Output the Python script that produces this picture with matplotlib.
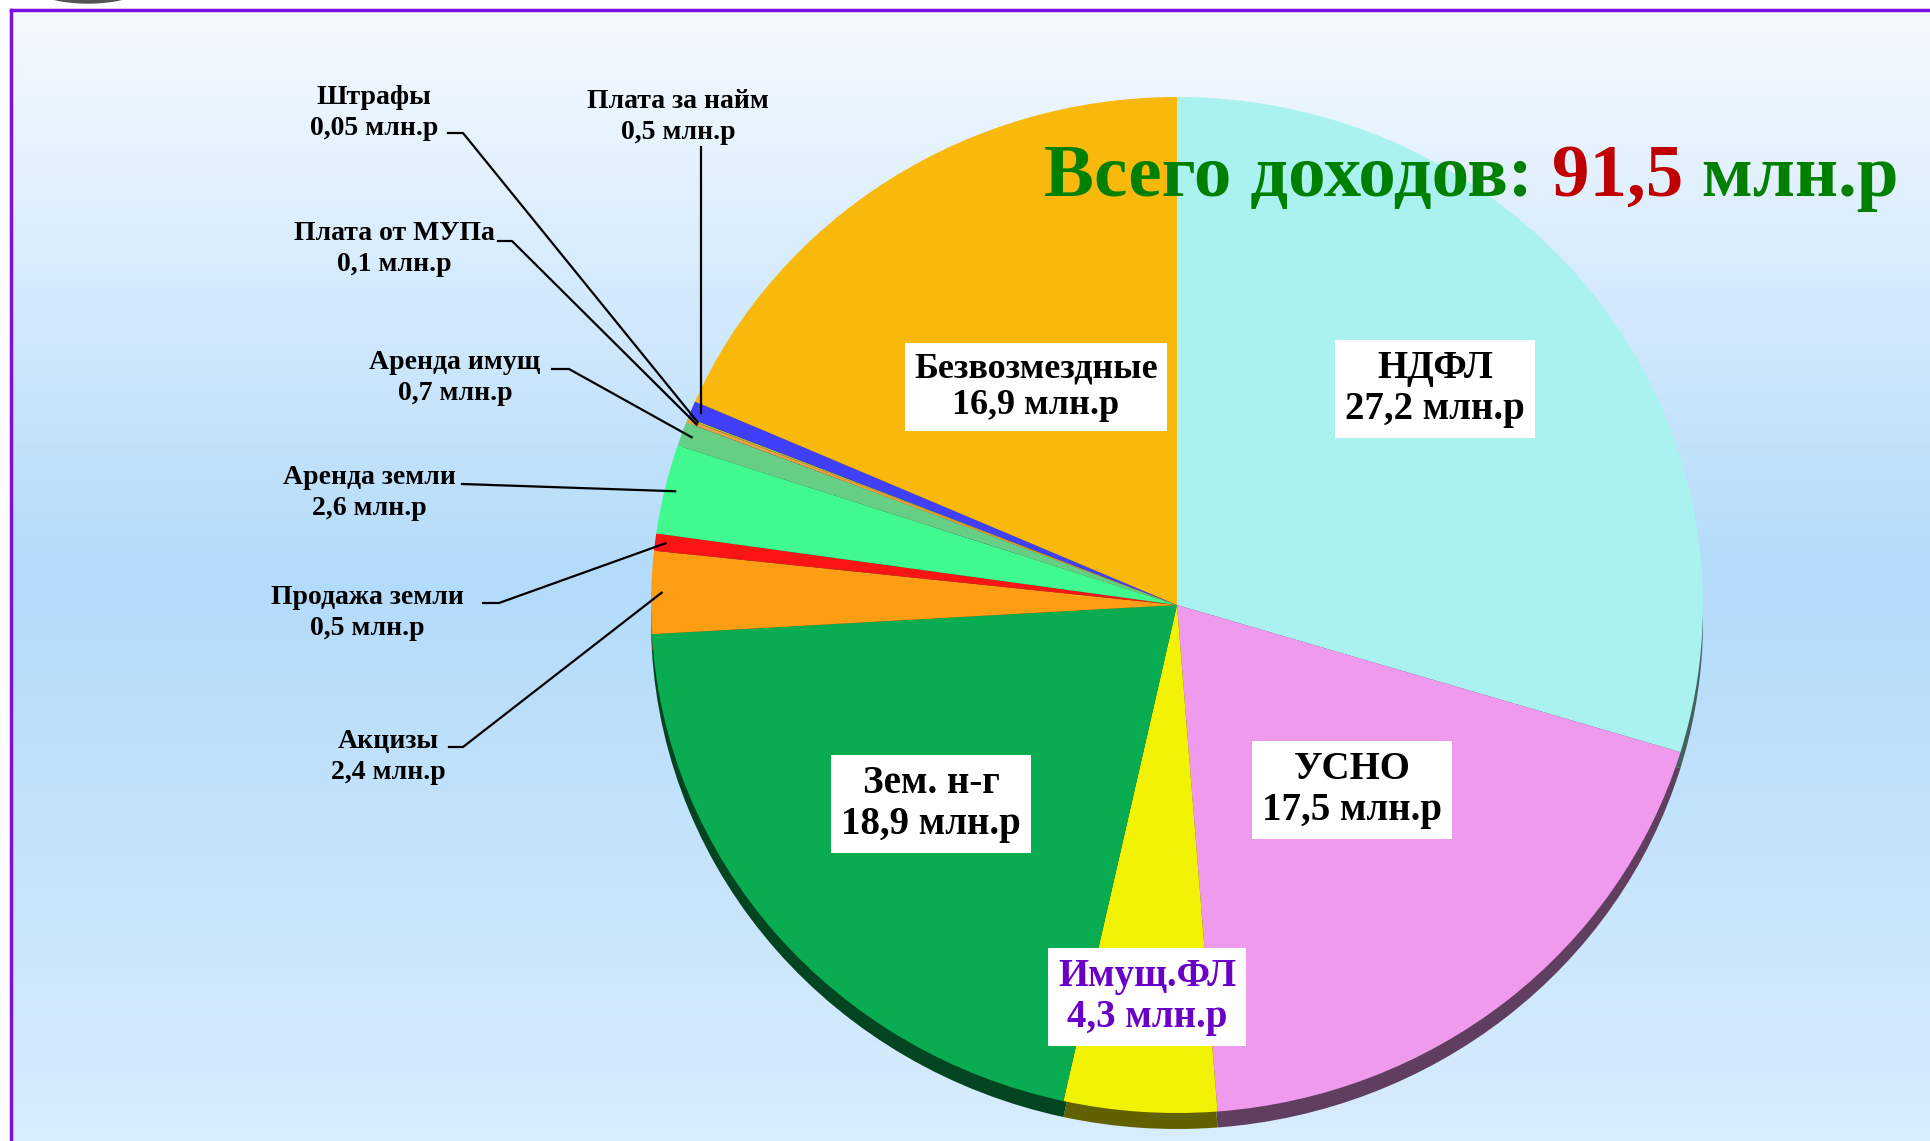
import numpy as np
import matplotlib.pyplot as plt
from matplotlib.colors import to_rgb, LinearSegmentedColormap
from matplotlib.patches import Ellipse
from matplotlib.offsetbox import TextArea, HPacker, AnnotationBbox

W, H = 1930, 1141

# данные: доходы, млн.р (по часовой стрелке от 12 часов)
names = ['НДФЛ', 'УСНО', 'Имущ.ФЛ', 'Зем. н-г', 'Акцизы', 'Продажа земли',
         'Аренда земли', 'Аренда имущ', 'Плата от МУПа', 'Штрафы',
         'Плата за найм', 'Безвозмездные']
values = [27.2, 17.5, 4.3, 18.9, 2.4, 0.5, 2.6, 0.7, 0.1, 0.05, 0.5, 16.9]
colors = ['#aaf2f0', '#f09aee', '#f2f205', '#0aac52', '#fb9e13', '#fb1414',
          '#40fa90', '#66cf85', '#e8a040', '#b0c030', '#4040fa', '#f8b80c']
total_text = '91,5'

# геометрия круга (пиксели)
cx, cy = 1177, 605
rx, ry = 526, 508
depth = 16

FONT = ['Liberation Serif', 'DejaVu Serif']


def lbl(i):
    return names[i] + '\n' + str(values[i]).replace('.', ',') + ' млн.р'


fig = plt.figure(figsize=(19.3, 11.41), dpi=100)
fig.patch.set_facecolor('white')

# фон
bg = fig.add_axes([0, 0, 1, 1])
cmap = LinearSegmentedColormap.from_list('bg', [(0, '#f6faff'), (0.5, '#b3dbfa'), (1, '#d8edfd')])
bg.imshow(np.linspace(0, 1, 256)[:, None], cmap=cmap, extent=[11, W, H, 10], aspect='auto')
bg.plot([11, W], [10, 10], color='#7b10e0', lw=2.5)
bg.plot([11, 11], [10, H], color='#7b10e0', lw=2.5)
bg.add_patch(Ellipse((88, -14), 110, 34, color='#555555'))
bg.set_xlim(0, W)
bg.set_ylim(H, 0)
bg.axis('off')

# круговая диаграмма с "толщиной"
ax = fig.add_axes([0, 0, 1, 1])
ax.patch.set_visible(False)
dark = [tuple(0.4 * c for c in to_rgb(col)) for col in colors]
ax.pie(values, colors=dark, startangle=90, counterclock=False,
       center=(0, -depth / ry), wedgeprops=dict(linewidth=0))
wedges, _ = ax.pie(values, colors=colors, startangle=90, counterclock=False,
                   wedgeprops=dict(linewidth=0))
ax.set_aspect('auto')
ax.set_xlim(-cx / rx, (W - cx) / rx)
ax.set_ylim(-(H - cy) / ry, cy / ry)
ax.axis('off')


def edge_px(i, r=0.98):
    w = wedges[i]
    th = np.deg2rad((w.theta1 + w.theta2) / 2)
    return cx + rx * r * np.cos(th), cy - ry * r * np.sin(th)


# подписи
ov = fig.add_axes([0, 0, 1, 1])
ov.patch.set_visible(False)
ov.set_xlim(0, W)
ov.set_ylim(H, 0)
ov.axis('off')

inner = {0: (1435, 389), 11: (1036, 387), 1: (1352, 790), 3: (931, 804), 2: (1147, 997)}
for i, (x, y) in inner.items():
    col = '#6a00c8' if i == 2 else 'black'
    fs = 26 if i == 11 else 28
    ov.text(x, y, lbl(i), ha='center', va='center', fontsize=fs, fontweight='bold',
            family=FONT, color=col, linespacing=1.15,
            bbox=dict(boxstyle='square,pad=0.25', fc='white', ec='none'))

# внешние подписи: центр текста, начало выноски, излом
outer = {
    4: ((388, 757), (449, 747), 463),
    5: ((367, 613), (483, 603), 499),
    6: ((369, 493), (462, 484), None),
    7: ((455, 378), (552, 369), 569),
    8: ((394, 249), (498, 241), 512),
    9: ((374, 113), (448, 133), 463),
}
for i, ((tx, ty), (sx, sy), ex) in outer.items():
    ov.text(tx, ty, lbl(i), ha='center', va='center', fontsize=20, fontweight='bold',
            family=FONT, linespacing=1.3)
    px, py = edge_px(i)
    xs, ys = [sx], [sy]
    if ex is not None:
        xs.append(ex)
        ys.append(sy)
    xs.append(px)
    ys.append(py)
    ov.plot(xs, ys, color='black', lw=1.6)

# Плата за найм - вертикальная выноска
ov.text(678, 117, lbl(10), ha='center', va='center', fontsize=20, fontweight='bold',
        family=FONT, linespacing=1.3)
px, py = edge_px(10)
ov.plot([px, px], [147, py], color='black', lw=1.6)

# заголовок
tp = dict(fontsize=54, fontweight='bold', family=FONT)
parts = [TextArea('Всего доходов: ', textprops=dict(color='#008000', **tp)),
         TextArea(total_text, textprops=dict(color='#c00000', **tp)),
         TextArea(' млн.р', textprops=dict(color='#008000', **tp))]
box = HPacker(children=parts, align='baseline', pad=0, sep=0)
ov.add_artist(AnnotationBbox(box, (1044, 178), xycoords='data', box_alignment=(0, 0.5),
                             frameon=False, pad=0))

fig.savefig('out.png', dpi=100)
